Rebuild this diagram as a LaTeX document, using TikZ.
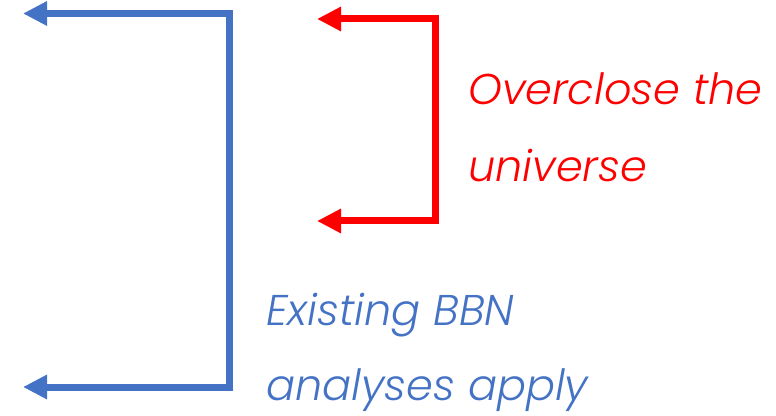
\documentclass[tikz,border=0pt]{standalone}
\usepackage{fontspec}
\usetikzlibrary{arrows.meta}
\newfontfamily\labelfont{Poppins Light Italic}
\definecolor{bbnblue}{HTML}{4472C4}
\definecolor{closered}{HTML}{FF0000}
\tikzset{
  bracket/.style={line width=7pt, line join=miter,
    arrows={Triangle[length=24pt,width=23pt]-Triangle[length=24pt,width=23pt]}},
  caption/.style={anchor=base west, inner sep=0pt,
    font=\labelfont\fontsize{43}{50}\selectfont}
}
\begin{document}
\begin{tikzpicture}[x=1pt,y=1pt]
\useasboundingbox (0,0) rectangle (776,415);
% blue bracket
\coordinate (bt) at (23,401.5);
\coordinate (bc1) at (229.5,401.5);
\coordinate (bc2) at (229.5,28);
\coordinate (bb) at (23,28);
\draw[bracket, bbnblue] (bt) -- (bc1) -- (bc2) -- (bb);
% red bracket
\coordinate (rt) at (317,396);
\coordinate (rc1) at (435,396);
\coordinate (rc2) at (435,194);
\coordinate (rb) at (317,194);
\draw[bracket, closered] (rt) -- (rc1) -- (rc2) -- (rb);
% captions
\node[caption, text=closered] (r1) at (468,310) {Overclose the};
\node[caption, text=closered] (r2) at (468,233) {universe};
\node[caption, text=bbnblue] (b1) at (266,89) {Existing BBN};
\node[caption, text=bbnblue] (b2) at (266,15) {analyses apply};
\end{tikzpicture}
\end{document}
